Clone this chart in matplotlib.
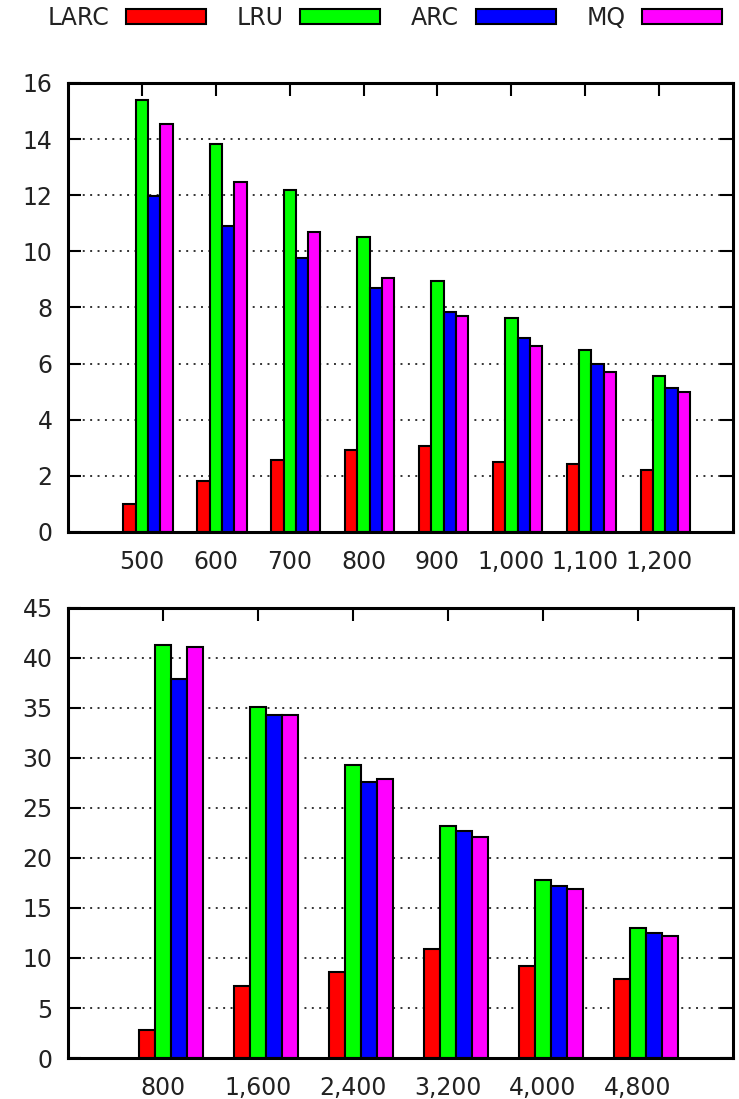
import numpy as np
import matplotlib
matplotlib.use('Agg')
import matplotlib.pyplot as plt
from matplotlib.patches import Patch

plt.rcParams['font.family'] = 'DejaVu Sans'
plt.rcParams['font.size'] = 17
plt.rcParams['text.color'] = '#222222'

series = ['LARC', 'LRU', 'ARC', 'MQ']
colors = ['#ff0000', '#00ff00', '#0000ff', '#ff00ff']

# top panel
top_labels = ['500', '600', '700', '800', '900', '1,000', '1,100', '1,200']
top_larc = [1.0, 1.83, 2.57, 2.92, 3.06, 2.49, 2.41, 2.21]
top_lru = [15.4, 13.83, 12.19, 10.52, 8.96, 7.61, 6.49, 5.56]
top_arc = [11.97, 10.9, 9.75, 8.68, 7.83, 6.9, 5.99, 5.12]
top_mq = [14.54, 12.47, 10.69, 9.04, 7.7, 6.64, 5.71, 5.0]

# bottom panel
bot_labels = ['800', '1,600', '2,400', '3,200', '4,000', '4,800']
bot_larc = [2.8, 7.23, 8.63, 10.87, 9.23, 7.87]
bot_lru = [41.3, 35.07, 29.27, 23.23, 17.83, 12.97]
bot_arc = [37.9, 34.27, 27.63, 22.67, 17.23, 12.47]
bot_mq = [41.07, 34.27, 27.87, 22.07, 16.87, 12.23]


def histo(ax, labels, cols, ymax, ystep):
    n = len(labels)
    x = np.arange(n)
    w = 1.0 / 6
    for j, vals in enumerate(cols):
        ax.bar(x + (j - 1) * w, vals, w, color=colors[j],
               edgecolor='black', linewidth=1.5, zorder=2)
    ax.set_xlim(-1, n)
    ax.set_ylim(0, ymax)
    ax.set_xticks(x)
    ax.set_xticklabels(labels)
    ax.set_yticks(np.arange(0, ymax + 0.1, ystep))
    ax.tick_params(axis='both', direction='in', length=9.5, width=1.5,
                   top=True, right=True, colors='black', labelcolor='#222222')
    ax.tick_params(axis='x', pad=13)
    ax.tick_params(axis='y', pad=11)
    ax.set_axisbelow(True)
    ax.yaxis.grid(True, color='#333333', linewidth=1.4, linestyle=(0, (1, 2.8)))
    for s in ax.spines.values():
        s.set_linewidth(2.2)
        s.set_zorder(3)


fig = plt.figure(figsize=(7.39, 10.99), dpi=100)

ax1 = fig.add_axes([0.092, 0.516, 0.900, 0.4085])
histo(ax1, top_labels, [top_larc, top_lru, top_arc, top_mq], 16, 2)

ax2 = fig.add_axes([0.092, 0.0373, 0.900, 0.4095])
histo(ax2, bot_labels, [bot_larc, bot_lru, bot_arc, bot_mq], 45, 5)

handles = [Patch(facecolor=c, edgecolor='black', linewidth=1.5) for c in colors]
fig.legend(handles, series, ncol=4, loc='center left',
           bbox_to_anchor=(0.064, 0.9836), frameon=False, markerfirst=False,
           handlelength=3.4, handleheight=0.6, handletextpad=0.7,
           columnspacing=1.3, borderpad=0, borderaxespad=0)

fig.savefig('out.png', dpi=100)
